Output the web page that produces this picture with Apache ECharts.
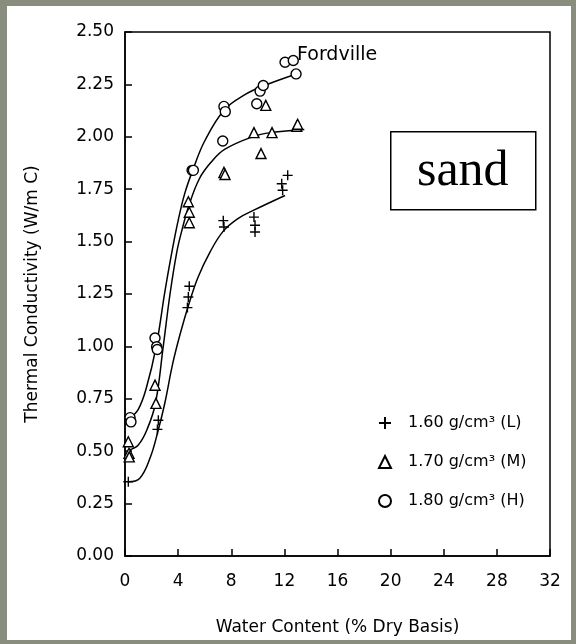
<!DOCTYPE html>
<html>
<head>
<meta charset="utf-8">
<script src="https://cdn.jsdelivr.net/npm/echarts@6/dist/echarts.min.js"></script>
<style>
body{margin:0;background:#898d7d;}
#paper{position:absolute;left:7px;top:6px;width:564px;height:634px;background:#fff;}
#chart{position:absolute;left:0;top:0;width:576px;height:644px;}
</style>
</head>
<body>
<div id="paper"></div>
<div id="chart"></div>
<script>
// measured points: water content (% dry basis) / thermal conductivity (W/m C)
var lowX  = [0.25, 2.44, 2.51, 4.70, 4.77, 4.84, 7.40, 7.45, 9.71, 9.79, 9.79, 11.80, 11.87, 12.25];
var lowY  = [0.354, 0.604, 0.648, 1.185, 1.236, 1.287, 1.60, 1.57, 1.617, 1.578, 1.546, 1.776, 1.745, 1.816];
var midX  = [0.25, 0.30, 0.32, 2.26, 2.33, 4.77, 4.84, 4.84, 7.45, 7.53, 9.71, 10.24, 10.60, 11.07, 12.93, 13.0];
var midY  = [0.545, 0.49, 0.473, 0.815, 0.728, 1.69, 1.64, 1.59, 1.83, 1.82, 2.02, 1.92, 2.15, 2.02, 2.05, 2.06];
var highX = [0.38, 0.45, 2.26, 2.38, 2.43, 5.05, 5.15, 7.36, 7.45, 7.55, 9.92, 10.17, 10.41, 12.05, 12.67, 12.88];
var highY = [0.66, 0.64, 1.04, 0.998, 0.985, 1.84, 1.84, 1.98, 2.145, 2.12, 2.158, 2.218, 2.245, 2.356, 2.364, 2.30];

// fitted curves
var lowFitX  = [0.25, 1.1, 1.9, 2.5, 3.0, 3.6, 4.2, 4.8, 5.5, 6.4, 7.4, 8.5, 9.7, 12.05];
var lowFitY  = [0.354, 0.37, 0.47, 0.60, 0.73, 0.92, 1.07, 1.20, 1.33, 1.45, 1.55, 1.61, 1.65, 1.72];
var midFitX  = [0.25, 1.0, 1.7, 2.3, 2.88, 3.39, 3.9, 4.27, 4.8, 5.6, 6.5, 7.5, 9.6, 11.0, 13.5];
var midFitY  = [0.505, 0.53, 0.61, 0.73, 1.0, 1.25, 1.45, 1.55, 1.67, 1.80, 1.88, 1.94, 2.00, 2.02, 2.035];
var highFitX = [0.33, 1.0, 1.6, 2.35, 3.0, 3.5, 4.0, 4.5, 5.1, 6.0, 7.5, 9.0, 10.3, 12.9];
var highFitY = [0.656, 0.70, 0.80, 1.0, 1.26, 1.44, 1.60, 1.73, 1.84, 1.98, 2.13, 2.20, 2.24, 2.30];

var names = ['1.60 g/cm³ (L)', '1.70 g/cm³ (M)', '1.80 g/cm³ (H)'];
var xTicks = [0, 4, 8, 12, 16, 20, 24, 28, 32];
var yTicks = ['0.00', '0.25', '0.50', '0.75', '1.00', '1.25', '1.50', '1.75', '2.00', '2.25', '2.50'];

var FONT = 'DejaVu Sans';
var INK = '#000';

function pairs(xs, ys){
	var out = [];
	for (var i = 0; i < xs.length; i++) {
		out.push([xs[i], ys[i]]);
	}
	return out;
}

function pointSeries(name, xs, ys, symbol, size){
	return {
		name: name,
		type: 'scatter',
		symbol: symbol,
		symbolSize: size,
		z: 3,
		itemStyle: {color: '#fff', borderColor: INK, borderWidth: 1.4, opacity: 1},
		data: pairs(xs, ys)
	};
}

function fitSeries(xs, ys){
	return {
		type: 'line',
		smooth: 0.4,
		showSymbol: false,
		silent: true,
		z: 2,
		lineStyle: {color: INK, width: 1.5},
		data: pairs(xs, ys)
	};
}

function createChart(){
	var myChart = echarts.init(document.getElementById('chart'));
	var option = {
		animation: false,
		backgroundColor: 'transparent',
		grid: {
			left: 125,
			right: 26,
			top: 32,
			bottom: 88,
			show: true,
			borderColor: INK,
			borderWidth: 1.5,
			backgroundColor: 'transparent'
		},
		legend: {
			orient: 'vertical',
			left: 373,
			top: 410,
			itemWidth: 12,
			itemHeight: 12,
			itemGap: 23,
			data: names,
			textStyle: {fontFamily: FONT, fontSize: 16, color: INK, padding: [0, 0, 0, 12]}
		},
		xAxis: {
			type: 'value',
			min: 0,
			max: 32,
			interval: 4,
			name: 'Water Content (% Dry Basis)',
			nameLocation: 'middle',
			nameGap: 63,
			nameTextStyle: {fontFamily: FONT, fontSize: 17, color: INK},
			splitLine: {show: false},
			axisLine: {lineStyle: {color: INK, width: 1.5}},
			axisTick: {inside: true, length: 7, lineStyle: {color: INK, width: 1.5}},
			axisLabel: {
				margin: 17,
				fontFamily: FONT,
				fontSize: 17,
				color: INK,
				formatter: function(v){ return xTicks.indexOf(v) >= 0 ? String(v) : ''; }
			}
		},
		yAxis: {
			type: 'value',
			min: 0,
			max: 2.5,
			interval: 0.25,
			name: 'Thermal Conductivity (W/m C)',
			nameLocation: 'middle',
			nameGap: 84,
			nameTextStyle: {fontFamily: FONT, fontSize: 17, color: INK},
			splitLine: {show: false},
			axisLine: {lineStyle: {color: INK, width: 1.5}},
			axisTick: {inside: true, length: 7, lineStyle: {color: INK, width: 1.5}},
			axisLabel: {
				margin: 11,
				fontFamily: FONT,
				fontSize: 17,
				color: INK,
				formatter: function(v){ return yTicks[Math.round(v / 0.25)]; }
			}
		},
		graphic: [
			{
				type: 'text',
				left: 297,
				top: 46,
				z: 10,
				style: {text: 'Fordville', fontFamily: FONT, fontSize: 19, fill: INK}
			},
			{
				type: 'group',
				left: 390,
				top: 131,
				z: 10,
				children: [
					{
						type: 'rect',
						shape: {x: 0, y: 0, width: 145, height: 78},
						style: {fill: '#fff', stroke: INK, lineWidth: 1.5}
					},
					{
						type: 'text',
						x: 72,
						y: 40,
						style: {
							text: 'sand',
							fontFamily: 'Liberation Serif',
							fontSize: 50,
							fill: INK,
							align: 'center',
							verticalAlign: 'middle'
						}
					}
				]
			}
		],
		series: [
			fitSeries(lowFitX, lowFitY),
			fitSeries(midFitX, midFitY),
			fitSeries(highFitX, highFitY),
			pointSeries(names[0], lowX, lowY, 'path://M5,0L5,10M0,5L10,5', 10),
			pointSeries(names[1], midX, midY, 'triangle', 10),
			pointSeries(names[2], highX, highY, 'circle', 10)
		]
	};
	myChart.setOption(option);
}

createChart();
</script>
</body>
</html>
